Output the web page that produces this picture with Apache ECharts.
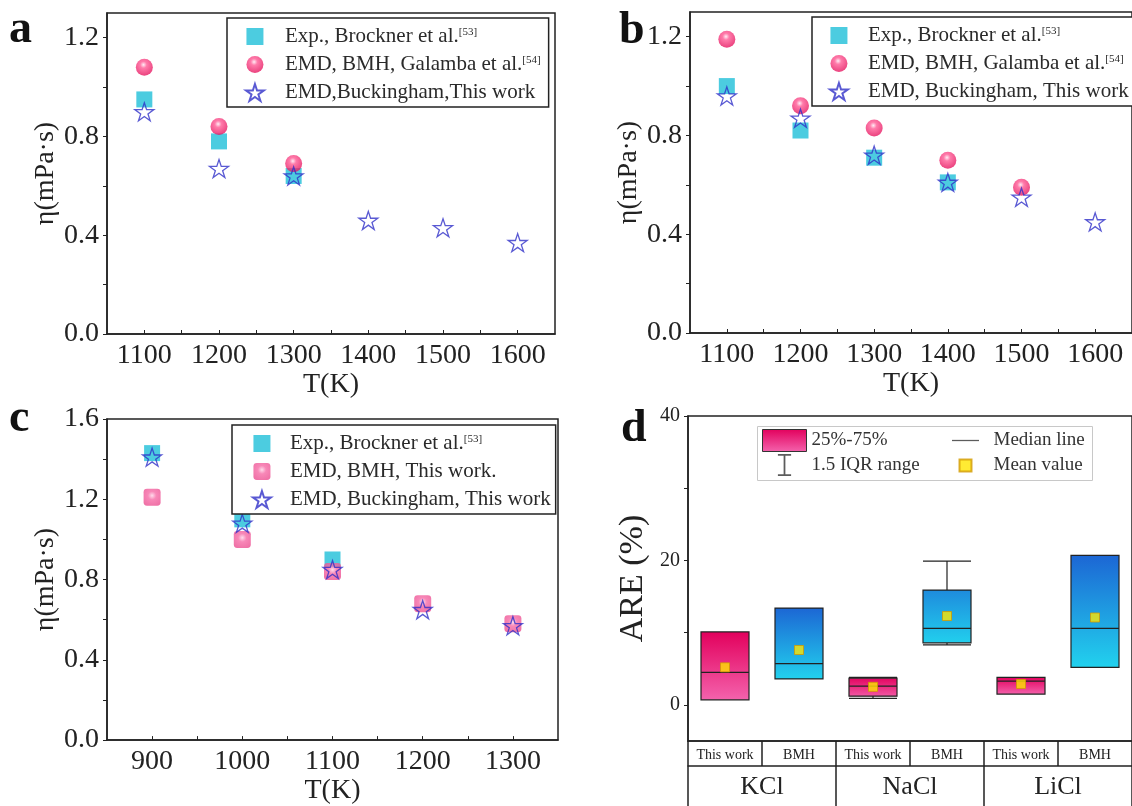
<!DOCTYPE html>
<html><head><meta charset="utf-8">
<script src="https://cdn.jsdelivr.net/npm/echarts@6/dist/echarts.min.js"></script>
<style>html,body{margin:0;padding:0;background:#fff}#c{width:1132px;height:806px}</style>
</head><body><div id="c"></div>
<script>
// ---------------- data ----------------
// panel a (KCl)
const tempA = [1100, 1200, 1300, 1400, 1500, 1600];
const expA = [0.95, 0.78, 0.64];
const galambaA = [1.08, 0.84, 0.69];
const buckA = [0.90, 0.67, 0.64, 0.46, 0.43, 0.37];
// panel b (NaCl)
const tempB = [1100, 1200, 1300, 1400, 1500, 1600];
const expB = [1.00, 0.82, 0.71, 0.61];
const galambaB = [1.19, 0.92, 0.83, 0.70, 0.59];
const buckB = [0.96, 0.87, 0.72, 0.61, 0.55, 0.45];
// panel c (LiCl)
const tempC = [900, 1000, 1100, 1200, 1300];
const expC = [1.43, 1.10, 0.90];
const bmhC = [1.21, 1.00, 0.84, 0.68, 0.58];
const buckC = [1.41, 1.08, 0.85, 0.65, 0.57];
// panel d (box plot of ARE %)
const methodLabels = ['This work', 'BMH', 'This work', 'BMH', 'This work', 'BMH'];
const saltLabels = ['KCl', 'NaCl', 'LiCl'];
const boxMin = [0.7, 3.6, 0.9, 8.3, 1.5, 5.2];
const boxQ1 = [0.7, 3.6, 1.2, 8.6, 1.5, 5.2];
const boxMedian = [4.5, 5.7, 2.6, 10.6, 3.3, 10.6];
const boxQ3 = [10.1, 13.4, 3.7, 15.9, 3.8, 20.7];
const boxMax = [10.1, 13.4, 3.8, 19.9, 3.8, 20.7];
const boxMean = [5.2, 7.6, 2.5, 12.3, 2.9, 12.1];
// tick labels
const etaLabelsAB = [0, 0.4, 0.8, 1.2];
const etaTicksAB = [0, 0.2, 0.4, 0.6, 0.8, 1.0, 1.2];
const tempLabelsAB = [1100, 1200, 1300, 1400, 1500, 1600];
const tempTicksAB = [1100, 1150, 1200, 1250, 1300, 1350, 1400, 1450, 1500, 1550, 1600];
const etaLabelsC = [0, 0.4, 0.8, 1.2, 1.6];
const etaTicksC = [0, 0.2, 0.4, 0.6, 0.8, 1.0, 1.2, 1.4, 1.6];
const tempLabelsC = [900, 1000, 1100, 1200, 1300];
const tempTicksC = [900, 950, 1000, 1050, 1100, 1150, 1200, 1250, 1300];
const areLabels = [0, 20, 40];
const areTicks = [0, 10, 20, 30, 40];
// ---------------------------------------

const FONT = 'Liberation Serif';
const INK = '#222';
const pair = (xs, ys) => ys.map((v, i) => [xs[i], v]);

const SQ = 'path://M0,0H10V10H0Z';
const RSQ = 'path://M2,0H8Q10,0 10,2V8Q10,10 8,10H2Q0,10 0,8V2Q0,0 2,0Z';
const STAR = 'path://M50,2L61.2,36.5L97.6,36.5L68.2,57.9L79.4,92.5L50,71.1L20.6,92.5L31.8,57.9L2.4,36.5L38.8,36.5Z';
const IBEAM = 'path://M0,0H12V1.6H6.8V18.4H12V20H0V18.4H5.2V1.6H0Z';
const HLINE = 'path://M0,0H30V1.4H0Z';

const cyan = '#1fbfd8';
const sphere = {type: 'radial', x: 0.45, y: 0.35, r: 0.65, colorStops: [
  {offset: 0, color: '#ffe8f2'}, {offset: 0.3, color: '#ff5a95'}, {offset: 1, color: '#e5135e'}]};
const pinkSq = {type: 'radial', x: 0.5, y: 0.4, r: 0.7, colorStops: [
  {offset: 0, color: '#ffd2e6'}, {offset: 0.35, color: '#f66aa6'}, {offset: 1, color: '#ea4b8e'}]};
const starStyle = {color: 'rgba(0,0,0,0)', borderColor: '#3030c8', borderWidth: 1.3};
const pinkGrad = {type: 'linear', x: 0, y: 0, x2: 0, y2: 1, colorStops: [
  {offset: 0, color: '#e2005c'}, {offset: 1, color: '#f463ad'}]};
const blueGrad = {type: 'linear', x: 0, y: 0, x2: 0, y2: 1, colorStops: [
  {offset: 0, color: '#1c66d4'}, {offset: 1, color: '#22d2ee'}]};

const grids = [
  {left: 107, top: 13, width: 448, height: 321},
  {left: 690, top: 12, width: 448, height: 321},
  {left: 107, top: 419, width: 451, height: 324},
  {left: 688, top: 416, width: 450, height: 325}
].map(g => Object.assign(g, {show: true, borderColor: INK, borderWidth: 1.5, backgroundColor: 'transparent'}));

const axLine = {show: true, onZero: false, lineStyle: {color: INK, width: 1.5}};
const lblStyle = {fontFamily: FONT, fontSize: 28, color: INK};

function tempAxis(gi, min, max, labels, ticks) {
  return {type: 'value', gridIndex: gi, min, max, name: 'T(K)', nameLocation: 'middle', nameGap: 35,
    nameTextStyle: Object.assign({}, lblStyle), axisLine: axLine, splitLine: {show: false},
    axisTick: {show: true, inside: true, length: 4, customValues: ticks, lineStyle: {color: INK}},
    axisLabel: Object.assign({margin: 8, customValues: labels, formatter: v => String(v)}, lblStyle)};
}
function etaAxis(gi, max, labels, ticks) {
  return {type: 'value', gridIndex: gi, min: 0, max, name: 'η(mPa·s)', nameLocation: 'middle', nameGap: 44,
    nameTextStyle: Object.assign({}, lblStyle), axisLine: axLine, splitLine: {show: false},
    axisTick: {show: true, inside: false, length: 4, customValues: ticks, lineStyle: {color: INK}},
    axisLabel: Object.assign({margin: 8, customValues: labels, formatter: v => v.toFixed(1)}, lblStyle)};
}

const xAxes = [
  tempAxis(0, 1050, 1650, tempLabelsAB, tempTicksAB),
  tempAxis(1, 1050, 1650, tempLabelsAB, tempTicksAB),
  tempAxis(2, 850, 1350, tempLabelsC, tempTicksC),
  {type: 'category', gridIndex: 3, data: methodLabels, position: 'bottom', axisLine: axLine,
    axisTick: {show: true, interval: 0, length: 25, inside: false, alignWithLabel: false, lineStyle: {color: INK, width: 1.5}},
    axisLabel: {interval: 0, margin: 7, fontFamily: FONT, fontSize: 14, color: INK}},
  {type: 'category', gridIndex: 3, data: saltLabels, position: 'bottom', offset: 25, axisLine: axLine,
    axisTick: {show: true, interval: 0, length: 45, inside: false, alignWithLabel: false, lineStyle: {color: INK, width: 1.5}},
    axisLabel: {interval: 0, margin: 8, fontFamily: FONT, fontSize: 26, color: INK}}
];
const yAxes = [
  etaAxis(0, 1.3, etaLabelsAB, etaTicksAB),
  etaAxis(1, 1.3, etaLabelsAB, etaTicksAB),
  etaAxis(2, 1.6, etaLabelsC, etaTicksC),
  {type: 'value', gridIndex: 3, min: -5, max: 40, name: 'ARE (%)', nameLocation: 'middle', nameGap: 38,
    nameTextStyle: {fontFamily: FONT, fontSize: 34, color: INK}, axisLine: axLine, splitLine: {show: false},
    axisTick: {show: true, inside: false, length: 4, customValues: areTicks, lineStyle: {color: INK}},
    axisLabel: {margin: 8, customValues: areLabels, fontFamily: FONT, fontSize: 20, color: INK, formatter: v => String(v)}}
];

function sc(name, xi, data, symbol, size, itemStyle) {
  return {type: 'scatter', name, xAxisIndex: xi, yAxisIndex: xi, data, symbol, symbolSize: size, itemStyle, symbolKeepAspect: true};
}
const N_EXP = 'Exp., Brockner et al.';
const N_GAL = 'EMD, BMH, Galamba et al.';
const N_BUCK_A = 'EMD,Buckingham,This work';
const N_BUCK = 'EMD, Buckingham, This work';
const N_BMH_C = 'EMD, BMH, This work.';

const series = [
  sc(N_EXP, 0, pair(tempA, expA), SQ, 16, {color: cyan}),
  sc(N_GAL, 0, pair(tempA, galambaA), 'circle', 17, {color: sphere}),
  sc(N_BUCK_A, 0, pair(tempA, buckA), STAR, 19, starStyle),
  sc(N_EXP, 1, pair(tempB, expB), SQ, 16, {color: cyan}),
  sc(N_GAL, 1, pair(tempB, galambaB), 'circle', 17, {color: sphere}),
  sc(N_BUCK, 1, pair(tempB, buckB), STAR, 19, starStyle),
  sc(N_EXP, 2, pair(tempC, expC), SQ, 16, {color: cyan}),
  sc(N_BMH_C, 2, pair(tempC, bmhC), RSQ, 17, {color: pinkSq}),
  sc(N_BUCK, 2, pair(tempC, buckC), STAR, 19, starStyle),
  {type: 'boxplot', name: '25%-75%', xAxisIndex: 3, yAxisIndex: 3, boxWidth: [48, 48],
    itemStyle: {borderColor: INK, borderWidth: 1.2},
    data: boxMin.map((v, i) => ({value: [v, boxQ1[i], boxMedian[i], boxQ3[i], boxMax[i]],
      itemStyle: {color: methodLabels[i] === 'This work' ? pinkGrad : blueGrad}}))},
  {type: 'scatter', name: 'Mean value', xAxisIndex: 3, yAxisIndex: 3, symbol: 'rect', symbolSize: 9,
    itemStyle: {color: '#ffe600', borderColor: '#d29a00', borderWidth: 1}, z: 5,
    data: boxMean.map((v, i) => [i, v])},
  {type: 'scatter', name: '1.5 IQR range', xAxisIndex: 3, yAxisIndex: 3, data: [], itemStyle: {color: '#333'}},
  {type: 'scatter', name: 'Median line', xAxisIndex: 3, yAxisIndex: 3, data: [], itemStyle: {color: '#333'}}
];

const sup = {};
sup[N_EXP] = '[53]';
sup[N_GAL] = '[54]';
const legText = {fontFamily: FONT, fontSize: 21, lineHeight: 20, color: '#2a2a2a',
  rich: {s: {fontFamily: FONT, fontSize: 11, lineHeight: 20, verticalAlign: 'top', color: '#2a2a2a'}}};
const fmt = name => sup[name] ? name + '{s|' + sup[name] + '}' : name;
function leg(data, left, top, w, pad) {
  return {data: data.map(n => ({name: n, icon: n === N_EXP ? SQ : undefined})),
    orient: 'vertical', left, top, itemWidth: w, itemHeight: 17, itemGap: 7, padding: pad,
    borderColor: INK, borderWidth: 1.5, backgroundColor: '#fff', formatter: fmt, textStyle: legText,
    selectedMode: false};
}

const option = {
  animation: false,
  grid: grids,
  xAxis: xAxes,
  yAxis: yAxes,
  legend: [
    leg([N_EXP, N_GAL, N_BUCK_A], 227, 18, 50, [8, 8, 4, 18]),
    leg([N_EXP, N_GAL, N_BUCK], 812, 17, 48, [8, 20, 4, 17]),
    leg([N_EXP, N_BMH_C, N_BUCK], 232, 425, 46, [8, 5, 4, 20]),
    {data: [{name: '25%-75%', icon: 'rect', itemStyle: {color: pinkGrad, borderColor: '#333', borderWidth: 1}},
            {name: '1.5 IQR range', icon: IBEAM}],
      orient: 'vertical', left: 762, top: 429, itemWidth: 44, itemHeight: 22, itemGap: 2, padding: 0,
      selectedMode: false, textStyle: {fontFamily: FONT, fontSize: 19, color: '#333'}},
    {data: [{name: 'Median line', icon: HLINE}, {name: 'Mean value', icon: SQ}],
      orient: 'vertical', left: 952, top: 431, itemWidth: 27, itemHeight: 12, itemGap: 6, padding: 0,
      selectedMode: false, formatter: n => '  ' + n, textStyle: {fontFamily: FONT, fontSize: 19, color: '#333'}}
  ],
  graphic: [
    {type: 'rect', left: 755, top: 424, shape: {width: 335, height: 54}, style: {fill: 'none', stroke: '#c8c8c8', lineWidth: 1}, z: 0},
    {type: 'text', left: 9, top: 7, style: {text: 'a', font: 'bold 46px "Liberation Serif"', fill: '#111'}},
    {type: 'text', left: 619, top: 8, style: {text: 'b', font: 'bold 46px "Liberation Serif"', fill: '#111'}},
    {type: 'text', left: 9, top: 396, style: {text: 'c', font: 'bold 46px "Liberation Serif"', fill: '#111'}},
    {type: 'text', left: 621, top: 406, style: {text: 'd', font: 'bold 46px "Liberation Serif"', fill: '#111'}}
  ],
  series
};
const chart = echarts.init(document.getElementById('c'), null, {renderer: 'canvas'});
chart.setOption(option);
</script>
</body></html>
